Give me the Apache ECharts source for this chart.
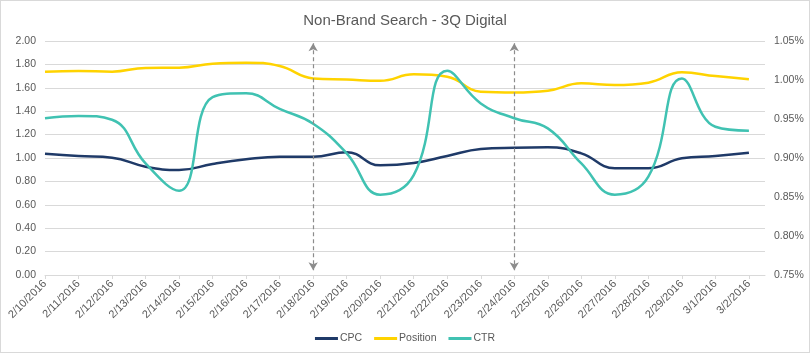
<!DOCTYPE html>
<html>
<head>
<meta charset="utf-8">
<script src="https://cdn.jsdelivr.net/npm/echarts@6/dist/echarts.min.js"></script>
<style>
  html, body { margin: 0; padding: 0; background: #fff; }
  #wrap { position: relative; width: 810px; height: 353px; }
  #chart { width: 810px; height: 353px; }
  #frame { position: absolute; left: 0; top: 0; width: 810px; height: 353px; box-sizing: border-box; border: 1px solid #d9d9d9; pointer-events: none; }
</style>
</head>
<body>
<div id="wrap"><div id="chart"></div><div id="frame"></div></div>
<script>
const titleText = 'Non-Brand Search - 3Q Digital';
const categories = ['2/10/2016','2/11/2016','2/12/2016','2/13/2016','2/14/2016','2/15/2016','2/16/2016','2/17/2016','2/18/2016','2/19/2016','2/20/2016','2/21/2016','2/22/2016','2/23/2016','2/24/2016','2/25/2016','2/26/2016','2/27/2016','2/28/2016','2/29/2016','3/1/2016','3/2/2016'];
const cpc = [1.037, 1.017, 1.003, 0.926, 0.897, 0.949, 0.989, 1.011, 1.010, 1.050, 0.937, 0.957, 1.017, 1.077, 1.088, 1.091, 1.040, 0.912, 0.912, 0.997, 1.017, 1.045];
const position = [1.738, 1.744, 1.738, 1.770, 1.772, 1.806, 1.815, 1.786, 1.680, 1.670, 1.660, 1.715, 1.695, 1.567, 1.560, 1.575, 1.638, 1.624, 1.644, 1.732, 1.700, 1.673];
const ctr = [0.951, 0.954, 0.949, 0.893, 0.858, 0.978, 0.983, 0.963, 0.944, 0.906, 0.853, 0.878, 1.012, 0.970, 0.951, 0.938, 0.893, 0.853, 0.876, 1.002, 0.940, 0.935];
const leftTicks = { min: 0, max: 2, interval: 0.2 };
const rightTicks = { min: 0.75, max: 1.05, interval: 0.05 };
const arrowDates = ['2/18/2016', '2/24/2016'];
const arrowSpan = [1.98, 0.04];

const font = "'Liberation Sans', Arial, sans-serif";
const txt = '#595959';
const grid = '#d9d9d9';
const idx = categories.map((_, i) => i);
const pairs = arr => arr.map((v, i) => [i, v]);

const chart = echarts.init(document.getElementById('chart'), null, { renderer: 'canvas' });
chart.setOption({
  animation: false,
  textStyle: { fontFamily: font },
  title: {
    text: titleText, left: 'center', top: 8,
    textStyle: { fontFamily: font, fontSize: 15, fontWeight: 'normal', color: txt }
  },
  legend: {
    bottom: 4, left: 'center', itemWidth: 23, itemHeight: 3, itemGap: 12, icon: 'rect',
    textStyle: { fontFamily: font, fontSize: 10.5, color: txt, padding: [0, 0, 0, -3] },
    data: ['CPC', 'Position', 'CTR']
  },
  grid: { left: 45, right: 45, top: 41, bottom: 78, containLabel: false },
  xAxis: {
    type: 'value', min: 0, max: 21.48,
    axisLine: { show: true, lineStyle: { color: grid, width: 1 } },
    axisTick: { show: true, length: 4, lineStyle: { color: grid }, customValues: idx },
    splitLine: { show: false },
    axisLabel: {
      customValues: idx, rotate: 45, margin: 7, fontSize: 11, color: txt, fontFamily: font,
      formatter: v => categories[Math.round(v)] || ''
    }
  },
  yAxis: [
    {
      type: 'value', min: leftTicks.min, max: leftTicks.max, interval: leftTicks.interval,
      axisLine: { show: false }, axisTick: { show: false },
      splitLine: { show: true, lineStyle: { color: grid, width: 1 } },
      axisLabel: { margin: 9, fontSize: 10.5, color: txt, fontFamily: font, formatter: v => v.toFixed(2) }
    },
    {
      type: 'value', min: rightTicks.min, max: rightTicks.max, interval: rightTicks.interval,
      axisLine: { show: false }, axisTick: { show: false },
      splitLine: { show: false },
      axisLabel: { margin: 9, fontSize: 10.5, color: txt, fontFamily: font, formatter: v => v.toFixed(2) + '%' }
    }
  ],
  series: [
    {
      name: 'CPC', type: 'line', yAxisIndex: 0, data: pairs(cpc), smooth: 0.45,
      showSymbol: false, symbol: 'none', lineStyle: { color: '#1f3a68', width: 2.5 }, itemStyle: { color: '#1f3a68' },
      markLine: {
        silent: true, symbol: ['arrow', 'arrow'], symbolSize: [7, 8],
        label: { show: false },
        lineStyle: { color: '#8c8c8c', type: [4, 3], width: 1.2 },
        data: arrowDates.map(d => [
          { coord: [categories.indexOf(d), arrowSpan[0]] },
          { coord: [categories.indexOf(d), arrowSpan[1]] }
        ])
      }
    },
    {
      name: 'Position', type: 'line', yAxisIndex: 0, data: pairs(position), smooth: 0.45,
      showSymbol: false, symbol: 'none', lineStyle: { color: '#ffd300', width: 2.5 }, itemStyle: { color: '#ffd300' }
    },
    {
      name: 'CTR', type: 'line', yAxisIndex: 1, data: pairs(ctr), smooth: 0.45,
      showSymbol: false, symbol: 'none', lineStyle: { color: '#40c2b2', width: 2.5 }, itemStyle: { color: '#40c2b2' }
    }
  ]
});
</script>
</body>
</html>
